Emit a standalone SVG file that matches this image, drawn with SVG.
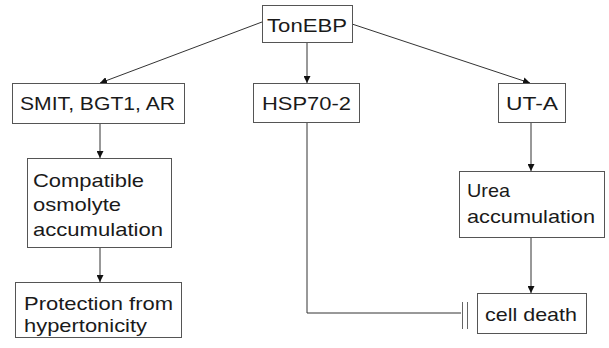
<svg xmlns="http://www.w3.org/2000/svg" width="609" height="348" viewBox="0 0 609 348">
  <style>
    .box { fill: #ffffff; stroke: #555555; stroke-width: 1; }
    .lbl { font-family: "Liberation Sans", Arial, sans-serif; font-size: 19px; fill: #1a1a1a; }
    .edge { fill: none; stroke: #333333; stroke-width: 1; }
    .bar { stroke: #666666; stroke-width: 1; }
  </style>
  <defs>
    <marker id="arrow" viewBox="0 0 10 10" refX="10" refY="5" markerWidth="7" markerHeight="7" markerUnits="userSpaceOnUse" orient="auto">
      <path d="M0,0 L10,5 L0,10 Z" fill="#111111"/>
    </marker>
  </defs>
  <rect width="609" height="348" fill="#ffffff"/>

  <g id="connectors">
    <line class="edge" x1="262" y1="22" x2="100" y2="83" marker-end="url(#arrow)"/>
    <line class="edge" x1="307" y1="42" x2="307" y2="83" marker-end="url(#arrow)"/>
    <line class="edge" x1="352" y1="24" x2="530" y2="83" marker-end="url(#arrow)"/>
    <line class="edge" x1="100" y1="123" x2="100" y2="158" marker-end="url(#arrow)"/>
    <line class="edge" x1="100" y1="247" x2="100" y2="282" marker-end="url(#arrow)"/>
    <line class="edge" x1="531" y1="122" x2="531" y2="171" marker-end="url(#arrow)"/>
    <line class="edge" x1="531" y1="237" x2="531" y2="293" marker-end="url(#arrow)"/>
    <!-- inhibition: HSP70-2 blocks cell death -->
    <polyline class="edge" points="307,122 307,313 461,313"/>
    <line class="bar" x1="462.5" y1="302" x2="462.5" y2="329"/>
    <line class="bar" x1="467.5" y1="302" x2="467.5" y2="329"/>
  </g>

  <g id="tonebp">
    <rect class="box" x="262.5" y="5.5" width="90" height="37"/>
    <text class="lbl" x="267" y="32" textLength="80" lengthAdjust="spacingAndGlyphs">TonEBP</text>
  </g>
  <g id="smit">
    <rect class="box" x="12.5" y="83.5" width="172" height="40"/>
    <text class="lbl" x="20" y="110" textLength="155" lengthAdjust="spacingAndGlyphs">SMIT, BGT1, AR</text>
  </g>
  <g id="hsp70">
    <rect class="box" x="253.5" y="83.5" width="106" height="39"/>
    <text class="lbl" x="262" y="110" textLength="89" lengthAdjust="spacingAndGlyphs">HSP70-2</text>
  </g>
  <g id="uta">
    <rect class="box" x="498.5" y="83.5" width="67" height="39"/>
    <text class="lbl" x="506" y="110" textLength="52" lengthAdjust="spacingAndGlyphs">UT-A</text>
  </g>
  <g id="compatible">
    <rect class="box" x="27.5" y="158.5" width="144" height="89"/>
    <text class="lbl" x="33" y="187" textLength="111" lengthAdjust="spacingAndGlyphs">Compatible</text>
    <text class="lbl" x="33" y="211" textLength="88" lengthAdjust="spacingAndGlyphs">osmolyte</text>
    <text class="lbl" x="33" y="236" textLength="130" lengthAdjust="spacingAndGlyphs">accumulation</text>
  </g>
  <g id="protection">
    <rect class="box" x="15.5" y="282.5" width="166" height="55"/>
    <text class="lbl" x="24" y="310" textLength="149" lengthAdjust="spacingAndGlyphs">Protection from</text>
    <text class="lbl" x="24" y="332" textLength="123" lengthAdjust="spacingAndGlyphs">hypertonicity</text>
  </g>
  <g id="urea">
    <rect class="box" x="459.5" y="171.5" width="145" height="66"/>
    <text class="lbl" x="467" y="197" textLength="43" lengthAdjust="spacingAndGlyphs">Urea</text>
    <text class="lbl" x="467" y="223" textLength="128" lengthAdjust="spacingAndGlyphs">accumulation</text>
  </g>
  <g id="celldeath">
    <rect class="box" x="477.5" y="293.5" width="109" height="40"/>
    <text class="lbl" x="485" y="321" textLength="92" lengthAdjust="spacingAndGlyphs">cell death</text>
  </g>
</svg>
